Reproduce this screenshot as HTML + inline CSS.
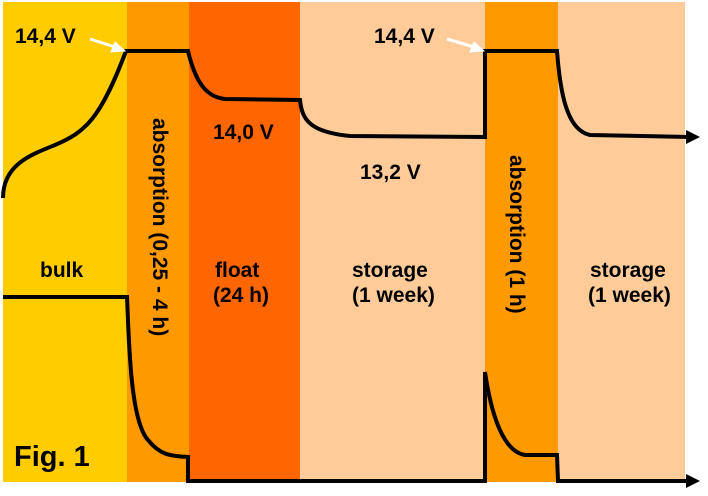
<!DOCTYPE html>
<html><head><style>body{margin:0;background:#fff}svg{display:block}</style></head>
<body>
<svg width="708" height="496" viewBox="0 0 708 496" xmlns="http://www.w3.org/2000/svg" font-family="Liberation Sans, sans-serif" font-weight="bold">
<rect x="3" y="2" width="124" height="480" fill="#FFCC00"/>
<rect x="127" y="2" width="62" height="480" fill="#FF9900"/>
<rect x="189" y="2" width="111" height="480" fill="#FF6600"/>
<rect x="300" y="2" width="185" height="480" fill="#FFCC99"/>
<rect x="485" y="2" width="73" height="480" fill="#FF9900"/>
<rect x="558" y="2" width="127" height="480" fill="#FFCC99"/>
<g fill="none" stroke="#000" stroke-width="4">
<path d="M3,198 C3,165 30,155 55,145 C85,132 100,120 126,51 L188,51 C195,80 205,97 225,99 L300,100 C302,120 310,132 350,136 L485,137 L485,51 L557,51 C560,90 566,130 590,135 L690,137"/>
<path d="M3,297 L127,297 C129,340 130,420 148,440 C160,455 170,456 188,457 L188,481 L485,481 L485,372 C492,420 505,452 525,455 L557,455 L558,481 L690,481"/>
</g>
<polygon points="686,130 700,137 686,144" fill="#000"/>
<polygon points="686,474 700,481 686,488" fill="#000"/>
<g stroke="#fff" stroke-width="3" fill="#fff">
<line x1="90" y1="39" x2="115" y2="47"/>
<polygon points="125,51 111,52 115,42" stroke-width="1"/>
<line x1="447" y1="39" x2="474" y2="47"/>
<polygon points="484,51 470,52 474,42" stroke-width="1"/>
</g>
<g font-size="21" fill="#000">
<text x="15" y="43">14,4 V</text>
<text x="374" y="43">14,4 V</text>
<text x="213" y="139">14,0 V</text>
<text x="360" y="179">13,2 V</text>
<text x="40" y="277">bulk</text>
<text x="215" y="277">float</text>
<text x="213" y="302">(24 h)</text>
<text x="352" y="277">storage</text>
<text x="352" y="302">(1 week)</text>
<text x="590" y="277">storage</text>
<text x="588" y="302">(1 week)</text>
<text transform="translate(153,118) rotate(90)">absorption (0,25 - 4 h)</text>
<text transform="translate(510,155) rotate(90)">absorption (1 h)</text>
<text x="14" y="466" font-size="29">Fig. 1</text>
</g>
</svg>
</body></html>
